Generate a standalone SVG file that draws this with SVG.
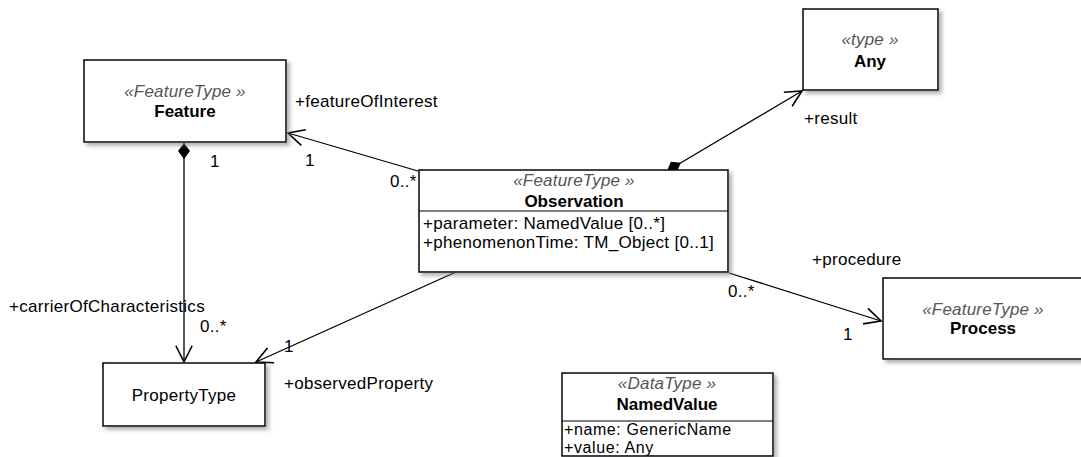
<svg xmlns="http://www.w3.org/2000/svg" width="1081" height="457" viewBox="0 0 1081 457">
<style>
text{font-family:"Liberation Sans",Arial,sans-serif;font-size:17px;fill:#000;letter-spacing:0.3px}
.st{font-style:italic;fill:#555;font-size:17px;letter-spacing:0.2px}
.nm{font-weight:bold;letter-spacing:0}
.c{text-anchor:middle}
.sm{font-size:16px;letter-spacing:0.6px}
.box{fill:#fff;stroke:#000;stroke-width:1.5;filter:url(#sh)}
.div{stroke:#000;stroke-width:1.2}
.ln{fill:none;stroke:#000;stroke-width:1.3}
</style>
<defs>
<filter id="sh" x="-10%" y="-10%" width="130%" height="140%">
<feDropShadow dx="3" dy="3" stdDeviation="2" flood-color="#777" flood-opacity="0.6"/>
</filter>
<marker id="arr" markerUnits="userSpaceOnUse" markerWidth="20" markerHeight="20" viewBox="-14 -8 16 16" refX="0" refY="0" orient="auto" overflow="visible">
<path d="M-13,-6.5 L0,0 L-13,6.5" fill="none" stroke="#000" stroke-width="1.3"/>
</marker>
<marker id="dia" markerUnits="userSpaceOnUse" markerWidth="20" markerHeight="20" viewBox="-2 -8 20 16" refX="0" refY="0" orient="auto" overflow="visible">
<path d="M0,0 L8,-6 L16,0 L8,6 Z" fill="#000"/>
</marker>
</defs>

<g id="connectors">
<line class="ln" x1="418" y1="171" x2="288" y2="133" marker-end="url(#arr)"/>
<line class="ln" x1="184" y1="143" x2="184" y2="362" marker-start="url(#dia)" marker-end="url(#arr)"/>
<line class="ln" x1="667" y1="171" x2="802" y2="91" marker-start="url(#dia)" marker-end="url(#arr)"/>
<line class="ln" x1="456" y1="272" x2="256" y2="362" marker-end="url(#arr)"/>
<line class="ln" x1="729" y1="273" x2="881" y2="321" marker-end="url(#arr)"/>
<text x="295" y="107">+featureOfInterest</text>
<text x="305" y="166">1</text>
<text x="390" y="187">0..*</text>
<text x="210" y="167">1</text>
<text x="9" y="312">+carrierOfCharacteristics</text>
<text x="200" y="332">0..*</text>
<text x="284" y="352">1</text>
<text x="284" y="389">+observedProperty</text>
<text x="804" y="124">+result</text>
<text x="812" y="265">+procedure</text>
<text x="728" y="297">0..*</text>
<text x="843" y="340">1</text>
</g>

<g id="Feature">
<rect class="box" x="84" y="60" width="202" height="82"/>
<text class="st c" x="185" y="97">«FeatureType »</text>
<text class="nm c" x="185" y="117">Feature</text>
</g>

<g id="Any">
<rect class="box" x="803" y="9" width="135" height="81"/>
<text class="st c" x="870" y="45">«type »</text>
<text class="nm c" x="870" y="67">Any</text>
</g>

<g id="Observation">
<rect class="box" x="419" y="170" width="309" height="102"/>
<line class="div" x1="419" y1="211" x2="728" y2="211"/>
<text class="st c" x="574" y="186">«FeatureType »</text>
<text class="nm c" x="574" y="207">Observation</text>
<text x="423" y="229">+parameter: NamedValue [0..*]</text>
<text x="423" y="248">+phenomenonTime: TM_Object [0..1]</text>
</g>

<g id="PropertyType">
<rect class="box" x="103" y="363" width="162" height="63"/>
<text class="c" x="184" y="401">PropertyType</text>
</g>

<g id="Process">
<rect class="box" x="883" y="278" width="199" height="81"/>
<text class="st c" x="983" y="315">«FeatureType »</text>
<text class="nm c" x="983" y="334">Process</text>
</g>

<g id="NamedValue">
<rect class="box" x="562" y="373" width="211" height="83"/>
<line class="div" x1="562" y1="421" x2="773" y2="421"/>
<text class="st c" x="667" y="389">«DataType »</text>
<text class="nm c" x="667" y="410">NamedValue</text>
<text class="sm" x="564" y="435">+name: GenericName</text>
<text class="sm" x="564" y="453">+value: Any</text>
</g>
</svg>
